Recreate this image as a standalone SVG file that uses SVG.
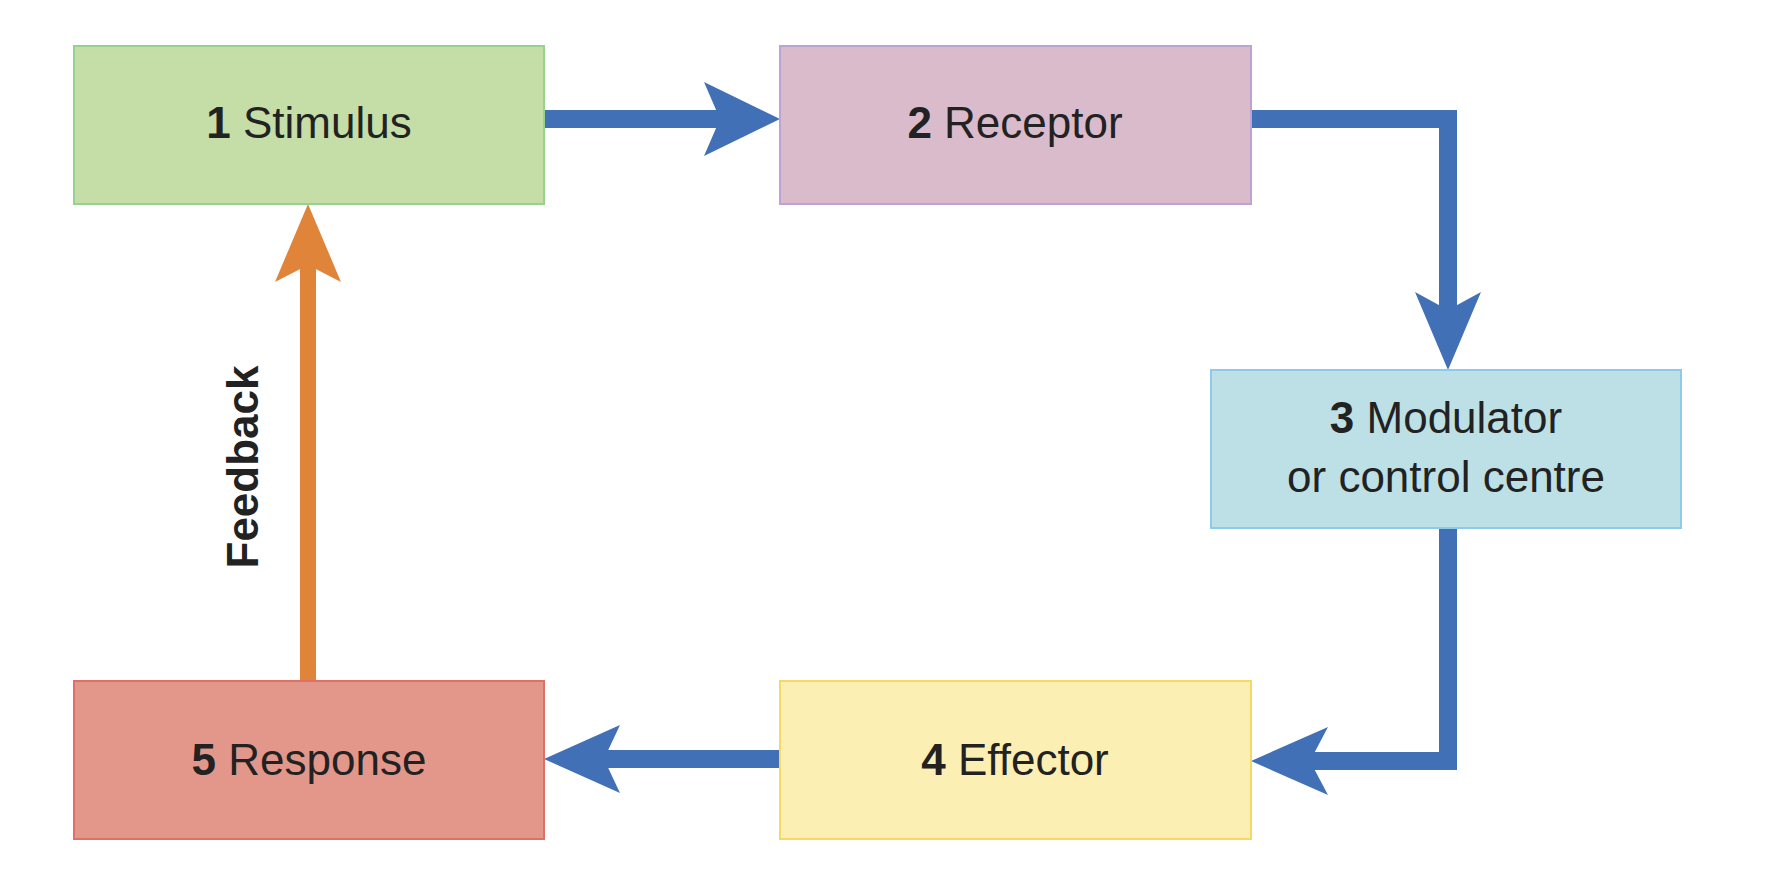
<svg xmlns="http://www.w3.org/2000/svg" width="1786" height="880" viewBox="0 0 1786 880">
<style>
text{font-family:"Liberation Sans",Arial,sans-serif;fill:#222;font-size:44px;text-anchor:middle}
.b{font-weight:bold}
.ln{fill:none;stroke:#4170b6;stroke-width:18}
.ah{fill:#4170b6}
rect{stroke-width:2}
</style>
<rect width="1786" height="880" fill="#fff"/>
<g id="connectors">
<line class="ln" x1="544" y1="119" x2="720" y2="119"/>
<path class="ah" d="M780 119 L704 82 L720 119 L704 156 Z"/>
<polyline class="ln" points="1251,119 1448,119 1448,310"/>
<path class="ah" d="M1448 370 L1415 292 L1448 310 L1481 292 Z"/>
<polyline class="ln" points="1448,528 1448,761 1310,761"/>
<path class="ah" d="M1251 761 L1328 727 L1310 761 L1328 795 Z"/>
<line class="ln" x1="780" y1="759" x2="600" y2="759"/>
<path class="ah" d="M544 759 L620 725 L604 759 L620 793 Z"/>
<line x1="308" y1="681" x2="308" y2="265" stroke="#e0843a" stroke-width="16"/>
<path d="M308 204 L275 282 L308 265 L341 282 Z" fill="#e0843a"/>
<text class="b" transform="translate(258,467) rotate(-90)" font-size="46">Feedback</text>
</g>
<g id="n1"><rect x="74" y="46" width="470" height="158" fill="#c5dda7" stroke="#96d18d"/>
<text x="309" y="138"><tspan class="b">1</tspan>  Stimulus</text></g>
<g id="n2"><rect x="780" y="46" width="471" height="158" fill="#dabbcb" stroke="#bca3d3"/>
<text x="1015" y="138"><tspan class="b">2</tspan>  Receptor</text></g>
<g id="n3"><rect x="1211" y="370" width="470" height="158" fill="#bce0e5" stroke="#8dcbea"/>
<text x="1446" y="433"><tspan class="b">3</tspan>  Modulator</text>
<text x="1446" y="492">or control centre</text></g>
<g id="n4"><rect x="780" y="681" width="471" height="158" fill="#fcefb4" stroke="#f6d965"/>
<text x="1015" y="775"><tspan class="b">4</tspan>  Effector</text></g>
<g id="n5"><rect x="74" y="681" width="470" height="158" fill="#e3978b" stroke="#e06f68"/>
<text x="309" y="775"><tspan class="b">5</tspan>  Response</text></g>
</svg>
